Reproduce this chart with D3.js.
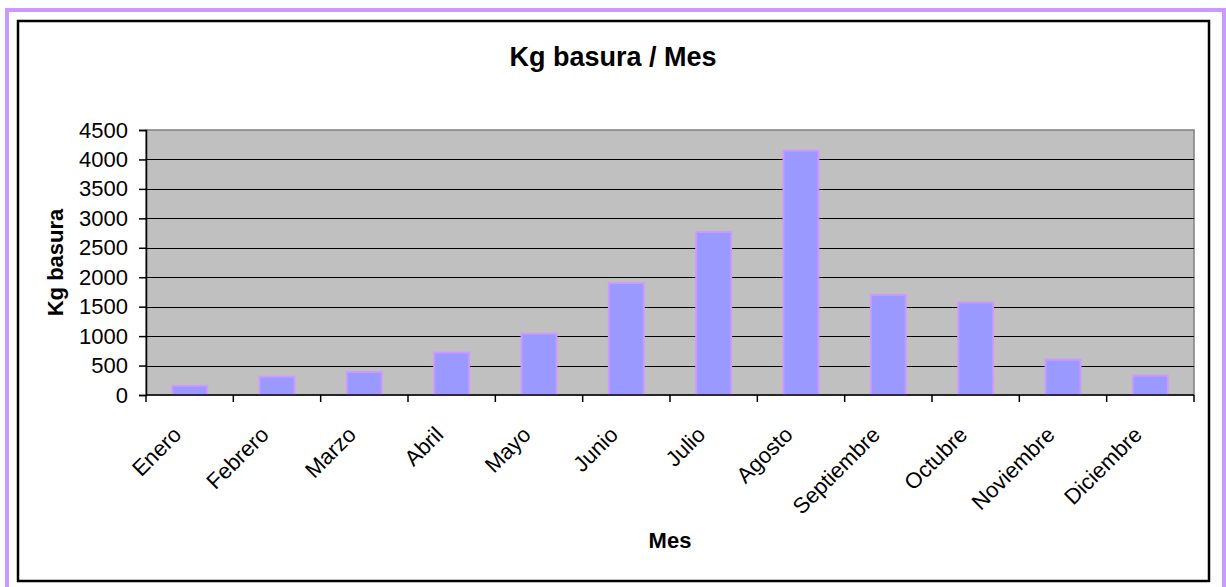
<!DOCTYPE html>
<html>
<head>
<meta charset="utf-8">
<script src="https://cdn.jsdelivr.net/npm/d3@7"></script>
<style>
  body { margin: 0; background: #fff; }
  svg { display: block; font-family: "Liberation Sans", Arial, sans-serif; }
</style>
</head>
<body>
<svg id="chart" width="1226" height="587"></svg>
<script>
// data
var meses = ["Enero", "Febrero", "Marzo", "Abril", "Mayo", "Junio", "Julio",
             "Agosto", "Septiembre", "Octubre", "Noviembre", "Diciembre"];
var kgBasura = [155, 310, 390, 720, 1040, 1900, 2770, 4150, 1700, 1570, 600, 330];
var yTicks = [0, 500, 1000, 1500, 2000, 2500, 3000, 3500, 4000, 4500];

var svg = d3.select("#chart");

// outer purple frame + black chart border
svg.append("rect")
  .attr("x", 7).attr("y", 10).attr("width", 1217).attr("height", 600)
  .attr("fill", "none").attr("stroke", "#CC99FF").attr("stroke-width", 4);
svg.append("rect")
  .attr("x", 18).attr("y", 21).attr("width", 1191).attr("height", 560)
  .attr("fill", "#fff").attr("stroke", "#000").attr("stroke-width", 2.5);

var plot = { left: 146, right: 1194, top: 130, bottom: 395 };

var x = d3.scaleBand()
  .domain(meses)
  .range([plot.left, plot.right])
  .paddingInner(0.6)
  .paddingOuter(0.3);

var y = d3.scaleLinear()
  .domain([0, 4500])
  .range([plot.bottom, plot.top]);

// plot area
svg.append("rect")
  .attr("x", plot.left).attr("y", plot.top)
  .attr("width", plot.right - plot.left).attr("height", plot.bottom - plot.top)
  .attr("fill", "#C0C0C0").attr("stroke", "#808080").attr("stroke-width", 1.5);

// gridlines
svg.append("g")
  .selectAll("line")
  .data(yTicks.slice(1, -1))
  .enter().append("line")
    .attr("x1", plot.left).attr("x2", plot.right)
    .attr("y1", function(d) { return Math.round(y(d)) + 0.5; })
    .attr("y2", function(d) { return Math.round(y(d)) + 0.5; })
    .attr("stroke", "#000").attr("stroke-width", 1);

// bars
svg.append("g")
  .selectAll("rect")
  .data(meses)
  .enter().append("rect")
    .attr("x", function(d) { return x(d); })
    .attr("y", function(d, i) { return y(kgBasura[i]); })
    .attr("width", x.bandwidth())
    .attr("height", function(d, i) { return y(0) - y(kgBasura[i]); })
    .attr("fill", "#9999FF")
    .attr("stroke", "#CC99FF")
    .attr("stroke-width", 2);

// y axis
var yAxis = d3.axisLeft(y).tickValues(yTicks).tickFormat(d3.format("d")).tickSize(7).tickPadding(11);
var gy = svg.append("g")
  .attr("transform", "translate(" + plot.left + ",0)")
  .call(yAxis)
  .attr("font-size", 22)
  .attr("font-family", "Liberation Sans, Arial, sans-serif");
gy.select(".domain").attr("stroke", "#000").attr("stroke-width", 1.5);
gy.selectAll(".tick line").attr("stroke", "#000").attr("stroke-width", 1.5);
gy.selectAll(".tick text").attr("fill", "#000");

// x axis line and boundary ticks
svg.append("line")
  .attr("x1", plot.left).attr("x2", plot.right)
  .attr("y1", plot.bottom).attr("y2", plot.bottom)
  .attr("stroke", "#000").attr("stroke-width", 1.5);

var bounds = d3.range(meses.length + 1).map(function(i) { return plot.left + i * x.step(); });
svg.append("g")
  .selectAll("line")
  .data(bounds)
  .enter().append("line")
    .attr("x1", function(d) { return d; }).attr("x2", function(d) { return d; })
    .attr("y1", plot.bottom).attr("y2", plot.bottom + 7)
    .attr("stroke", "#000").attr("stroke-width", 1.5);

// rotated month labels
svg.append("g")
  .selectAll("text")
  .data(meses)
  .enter().append("text")
    .attr("transform", function(d) {
      return "translate(" + (x(d) + x.bandwidth() / 2 - 18) + "," + (plot.bottom + 30) + ") rotate(-45)";
    })
    .attr("text-anchor", "end")
    .attr("dy", "0.71em")
    .attr("font-size", 22)
    .text(function(d) { return d; });

// titles
svg.append("text")
  .attr("x", 613).attr("y", 66)
  .attr("text-anchor", "middle")
  .attr("font-size", 27).attr("font-weight", "bold")
  .text("Kg basura / Mes");

svg.append("text")
  .attr("x", (plot.left + plot.right) / 2).attr("y", 548)
  .attr("text-anchor", "middle")
  .attr("font-size", 22).attr("font-weight", "bold")
  .text("Mes");

svg.append("text")
  .attr("transform", "translate(63," + (plot.top + plot.bottom) / 2 + ") rotate(-90)")
  .attr("text-anchor", "middle")
  .attr("font-size", 22).attr("font-weight", "bold")
  .text("Kg basura");
</script>
</body>
</html>
